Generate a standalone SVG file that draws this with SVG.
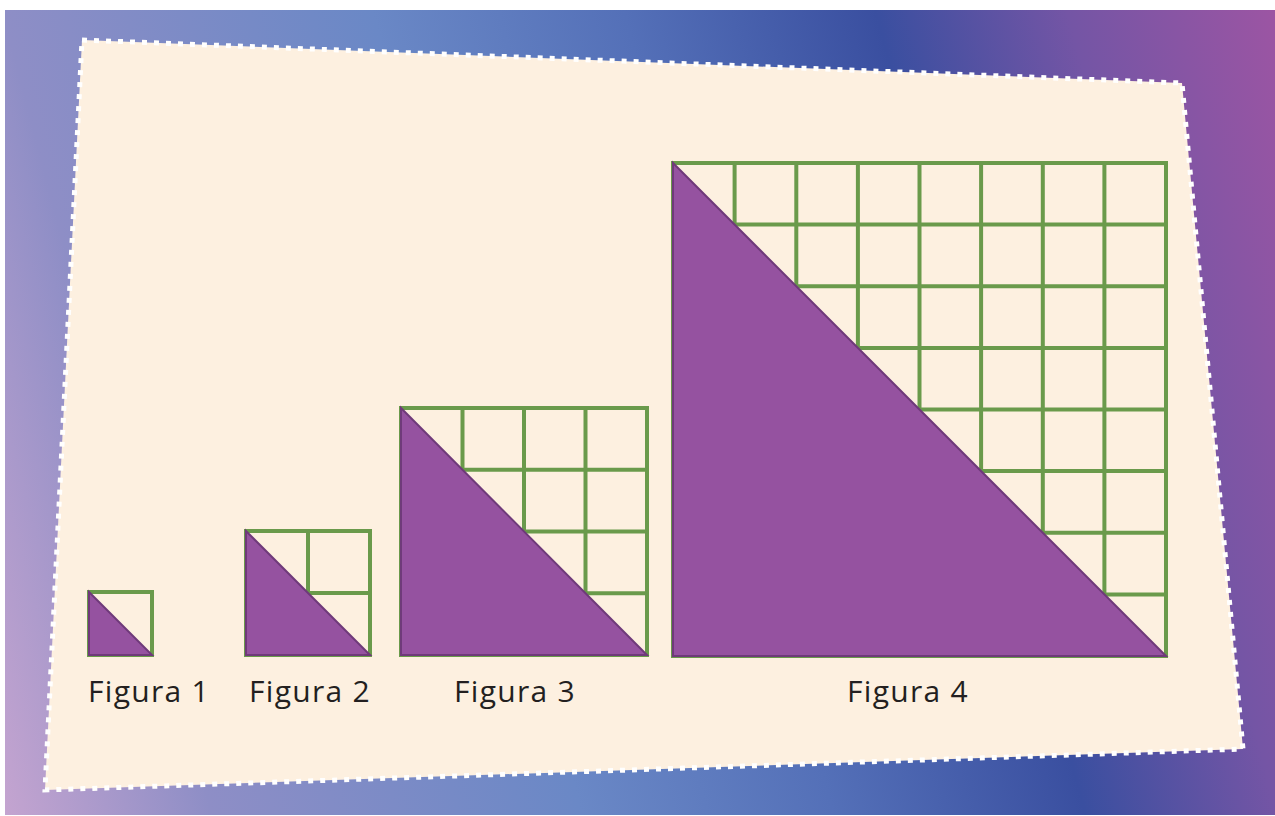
<svg xmlns="http://www.w3.org/2000/svg" width="1275" height="816" viewBox="0 0 1275 816">
<defs>
<linearGradient id="bg" gradientUnits="userSpaceOnUse" x1="5" y1="816" x2="1391" y2="455">
<stop offset="0" stop-color="#c4a4d0"/>
<stop offset="0.14" stop-color="#8e8ec6"/>
<stop offset="0.39" stop-color="#6a88c6"/>
<stop offset="0.56" stop-color="#5470b8"/>
<stop offset="0.73" stop-color="#3a4fa0"/>
<stop offset="0.86" stop-color="#7455a5"/>
<stop offset="1" stop-color="#9c55a3"/>
</linearGradient>
<style>
.grid{fill:none;stroke:#6a9a4b;stroke-width:4;stroke-linecap:square}
.tri{fill:#9552a0;stroke:#6f3a7a;stroke-width:2;stroke-linejoin:miter}
.lbl{font-family:"Open Sans","Liberation Sans",sans-serif;font-size:30px;letter-spacing:1.3px;fill:#231f20;text-anchor:middle}
</style>
</defs>
<rect width="1275" height="816" fill="#ffffff"/>
<rect x="5" y="10" width="1270" height="805" fill="url(#bg)"/>
<polygon points="82,40 1182,83 1243,749 45,790" fill="#fdf0e0" stroke="#ffffff" stroke-width="5" stroke-dasharray="5 7"/>

<g id="figura1">
<path class="grid" d="M89,592H152V655H89Z"/>
<polygon class="tri" points="89,592 152,655 89,655"/>
<text class="lbl" x="149" y="702">Figura 1</text>
</g>

<g id="figura2">
<path class="grid" d="M246,531H370V655H246Z M308,531V655 M246,593H370"/>
<polygon class="tri" points="246,531 370,655 246,655"/>
<text class="lbl" x="310" y="702">Figura 2</text>
</g>

<g id="figura3">
<path class="grid" d="M401,408H647V655H401Z M462.5,408V655 M524,408V655 M585.5,408V655 M401,469.75H647 M401,531.5H647 M401,593.25H647"/>
<polygon class="tri" points="401,408 647,655 401,655"/>
<text class="lbl" x="515" y="702">Figura 3</text>
</g>

<g id="figura4">
<path class="grid" d="M673,163H1166V656H673Z M734.6,163V656 M796.3,163V656 M857.9,163V656 M919.5,163V656 M981.1,163V656 M1042.8,163V656 M1104.4,163V656 M673,224.6H1166 M673,286.3H1166 M673,347.9H1166 M673,409.5H1166 M673,471.1H1166 M673,532.8H1166 M673,594.4H1166"/>
<polygon class="tri" points="673,163 1166,656 673,656"/>
<text class="lbl" x="908" y="702">Figura 4</text>
</g>
</svg>
